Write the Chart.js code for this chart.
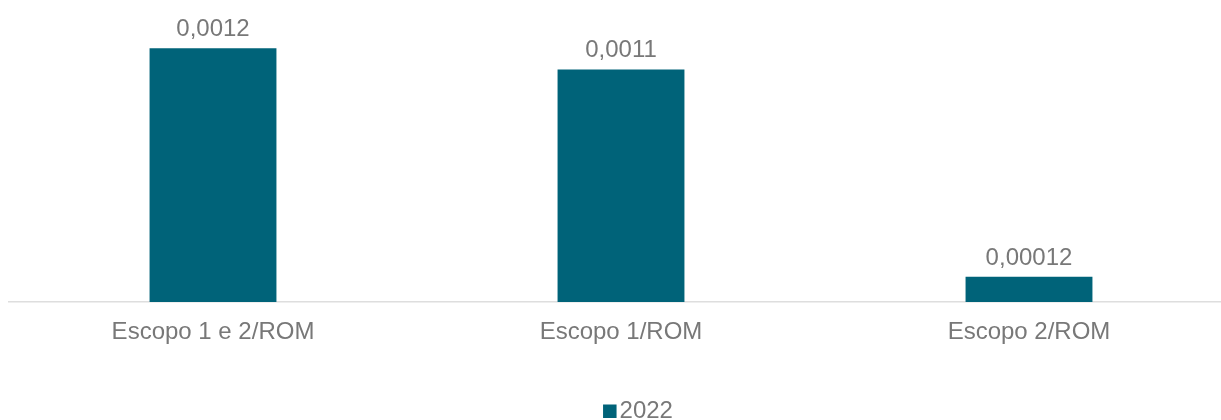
<!DOCTYPE html>
<html>
<head>
<meta charset="utf-8">
<script src="https://cdn.jsdelivr.net/npm/chart.js@4.4.1/dist/chart.umd.min.js"></script>
<style>
  html, body { margin: 0; padding: 0; background: #ffffff; overflow: hidden; }
  #wrap { width: 1233px; height: 420px; }
</style>
</head>
<body>
<div id="wrap"><canvas id="chart" width="1233" height="420"></canvas></div>
<script>
// Intensidade de emissões por ROM
const categories = ['Escopo 1 e 2/ROM', 'Escopo 1/ROM', 'Escopo 2/ROM'];
const seriesLabel = '2022';
const values2022 = [0.0012, 0.0011, 0.00012];

const BAR_COLOR = '#006379';
const TEXT_COLOR = '#787878';
const FONT_FAMILY = '"Liberation Sans", Arial, sans-serif';
const FONT_SIZE = 24;

function fmt(v) {
  return String(v).replace('.', ',');
}

// value labels above each bar
const valueLabels = {
  id: 'valueLabels',
  afterDatasetsDraw(chart) {
    const ctx = chart.ctx;
    ctx.save();
    ctx.font = FONT_SIZE + 'px ' + FONT_FAMILY;
    ctx.fillStyle = TEXT_COLOR;
    ctx.textAlign = 'center';
    ctx.textBaseline = 'alphabetic';
    chart.data.datasets.forEach((ds, di) => {
      chart.getDatasetMeta(di).data.forEach((bar, i) => {
        ctx.fillText(fmt(ds.data[i]), bar.x, bar.y - 12);
      });
    });
    ctx.restore();
  }
};

// compact legend: square swatch followed by the series name
const bottomLegend = {
  id: 'bottomLegend',
  afterDraw(chart) {
    const ctx = chart.ctx;
    const ds = chart.data.datasets[0];
    ctx.save();
    ctx.font = FONT_SIZE + 'px ' + FONT_FAMILY;
    const box = 13.5, gap = 3;
    const tw = ctx.measureText(ds.label).width;
    const total = box + gap + tw;
    const cx = (chart.chartArea.left + chart.chartArea.right) / 2 + 17;
    const x0 = cx - total / 2;
    const baseY = 418;
    ctx.fillStyle = ds.backgroundColor;
    ctx.fillRect(x0, baseY - box, box, box);
    ctx.fillStyle = TEXT_COLOR;
    ctx.textAlign = 'left';
    ctx.textBaseline = 'alphabetic';
    ctx.fillText(ds.label, x0 + box + gap, baseY);
    ctx.restore();
  }
};

new Chart(document.getElementById('chart'), {
  type: 'bar',
  data: {
    labels: categories,
    datasets: [{
      label: seriesLabel,
      data: values2022,
      backgroundColor: BAR_COLOR,
      borderWidth: 0,
      barPercentage: 1,
      categoryPercentage: 0.311
    }]
  },
  options: {
    responsive: false,
    animation: false,
    layout: { padding: { top: 6, left: 9, right: 0, bottom: 31 } },
    plugins: {
      legend: { display: false },
      tooltip: { enabled: false }
    },
    scales: {
      x: {
        grid: { display: false, drawTicks: false },
        border: { display: true, color: '#dedede', width: 1.5 },
        ticks: {
          color: TEXT_COLOR,
          font: { family: FONT_FAMILY, size: FONT_SIZE },
          padding: 16,
          maxRotation: 0
        },
        afterFit(scale) { scale.height = 87; }
      },
      y: {
        display: false,
        min: 0,
        max: 0.0014
      }
    }
  },
  plugins: [valueLabels, bottomLegend]
});
</script>
</body>
</html>
